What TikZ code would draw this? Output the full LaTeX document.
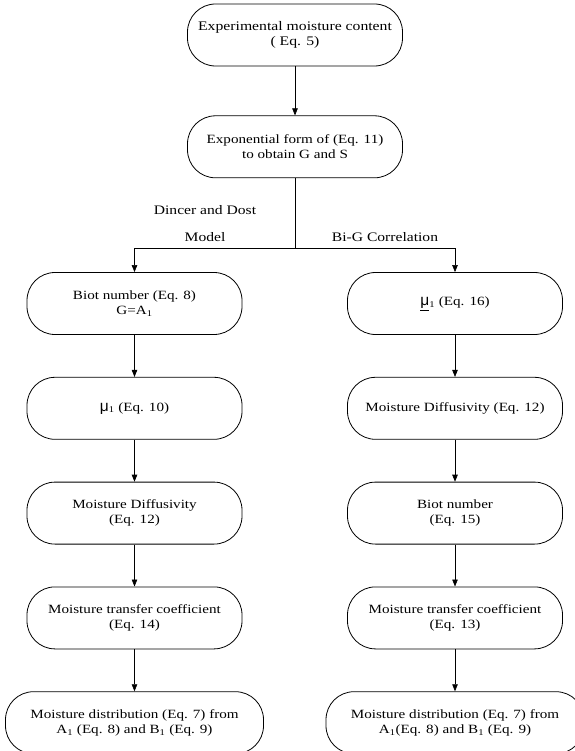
\documentclass[tikz,border=0pt]{standalone}
\usepackage{fontspec}
\setmainfont{Liberation Serif}[FakeStretch=1.2]
\newfontfamily\mufont{Liberation Sans}
\usetikzlibrary{arrows.meta,positioning}

\newcommand{\muone}{{\mufont\fontsize{15.5}{15.5}\selectfont μ}\textsubscript{1}}
\newcommand{\mubar}{\underline{{\mufont\fontsize{15.5}{15.5}\selectfont μ}}\textsubscript{1}}

\begin{document}
\begin{tikzpicture}[>={Triangle[length=7pt,width=5.5pt]}, node distance=42pt, semithick,
    proc/.style={draw, line width=0.8pt, rounded corners=28pt, minimum width=215pt, minimum height=62pt,
                 align=center, inner sep=2pt, font=\fontsize{12.6}{15.2}\selectfont},
    wide/.style={minimum width=258pt},
    lbl/.style={align=center, font=\fontsize{13}{27}\selectfont}]

  \useasboundingbox (0,0) rectangle (574pt,-751pt);

  \node[proc, font=\fontsize{13.1}{15.5}\selectfont] (expt) at (295pt,-35pt) {Experimental moisture content\\( Eq. 5)};
    \node[proc]          (expo)   [below=49pt of expt]  {Exponential form of (Eq. 11)\\to obtain G and S};
    \coordinate          (split)  at (295pt,-248pt);

    % Dincer and Dost model
    \node[proc]          (biotL)  at (134.5pt,-303.5pt) {Biot number (Eq. 8)\\G=A\textsubscript{1}};
    \node[proc]          (muL)    [below=of biotL]      {\muone{} (Eq. 10)};
    \node[proc]          (diffL)  [below=of muL]        {Moisture Diffusivity\\(Eq. 12)};
    \node[proc]          (coefL)  [below=of diffL]      {Moisture transfer coefficient\\(Eq. 14)};
    \node[proc, wide]    (distL)  [below=of coefL]      {Moisture distribution (Eq. 7) from\\A\textsubscript{1} (Eq. 8) and B\textsubscript{1} (Eq. 9)};

    % Bi-G correlation
    \node[proc]          (muR)    at (455pt,-303.5pt)   {\mubar{} (Eq. 16)};
    \node[proc]          (diffR)  [below=of muR]        {Moisture Diffusivity (Eq. 12)};
    \node[proc]          (biotR)  [below=of diffR]      {Biot number\\(Eq. 15)};
    \node[proc]          (coefR)  [below=of biotR]      {Moisture transfer coefficient\\(Eq. 13)};
    \node[proc, wide]    (distR)  [below=of coefR]      {Moisture distribution (Eq. 7) from\\A\textsubscript{1}(Eq. 8) and B\textsubscript{1} (Eq. 9)};

    \node[lbl]           (lblDD)  at (205pt,-224pt)     {Dincer and Dost\\Model};
    \node[lbl]           (lblBG)  at (385pt,-237.5pt)   {Bi-G Correlation};

    \draw[->] (expt) -- (expo);
    \draw     (expo) -- (split);
    \draw[->] (split) -| (biotL);
    \draw[->] (split) -| (muR);

    \path[->]   (biotL)  edge  (muL)
                (muL)    edge  (diffL)
                (diffL)  edge  (coefL)
                (coefL)  edge  (distL)
                (muR)    edge  (diffR)
                (diffR)  edge  (biotR)
                (biotR)  edge  (coefR)
                (coefR)  edge  (distR);
\end{tikzpicture}
\end{document}
